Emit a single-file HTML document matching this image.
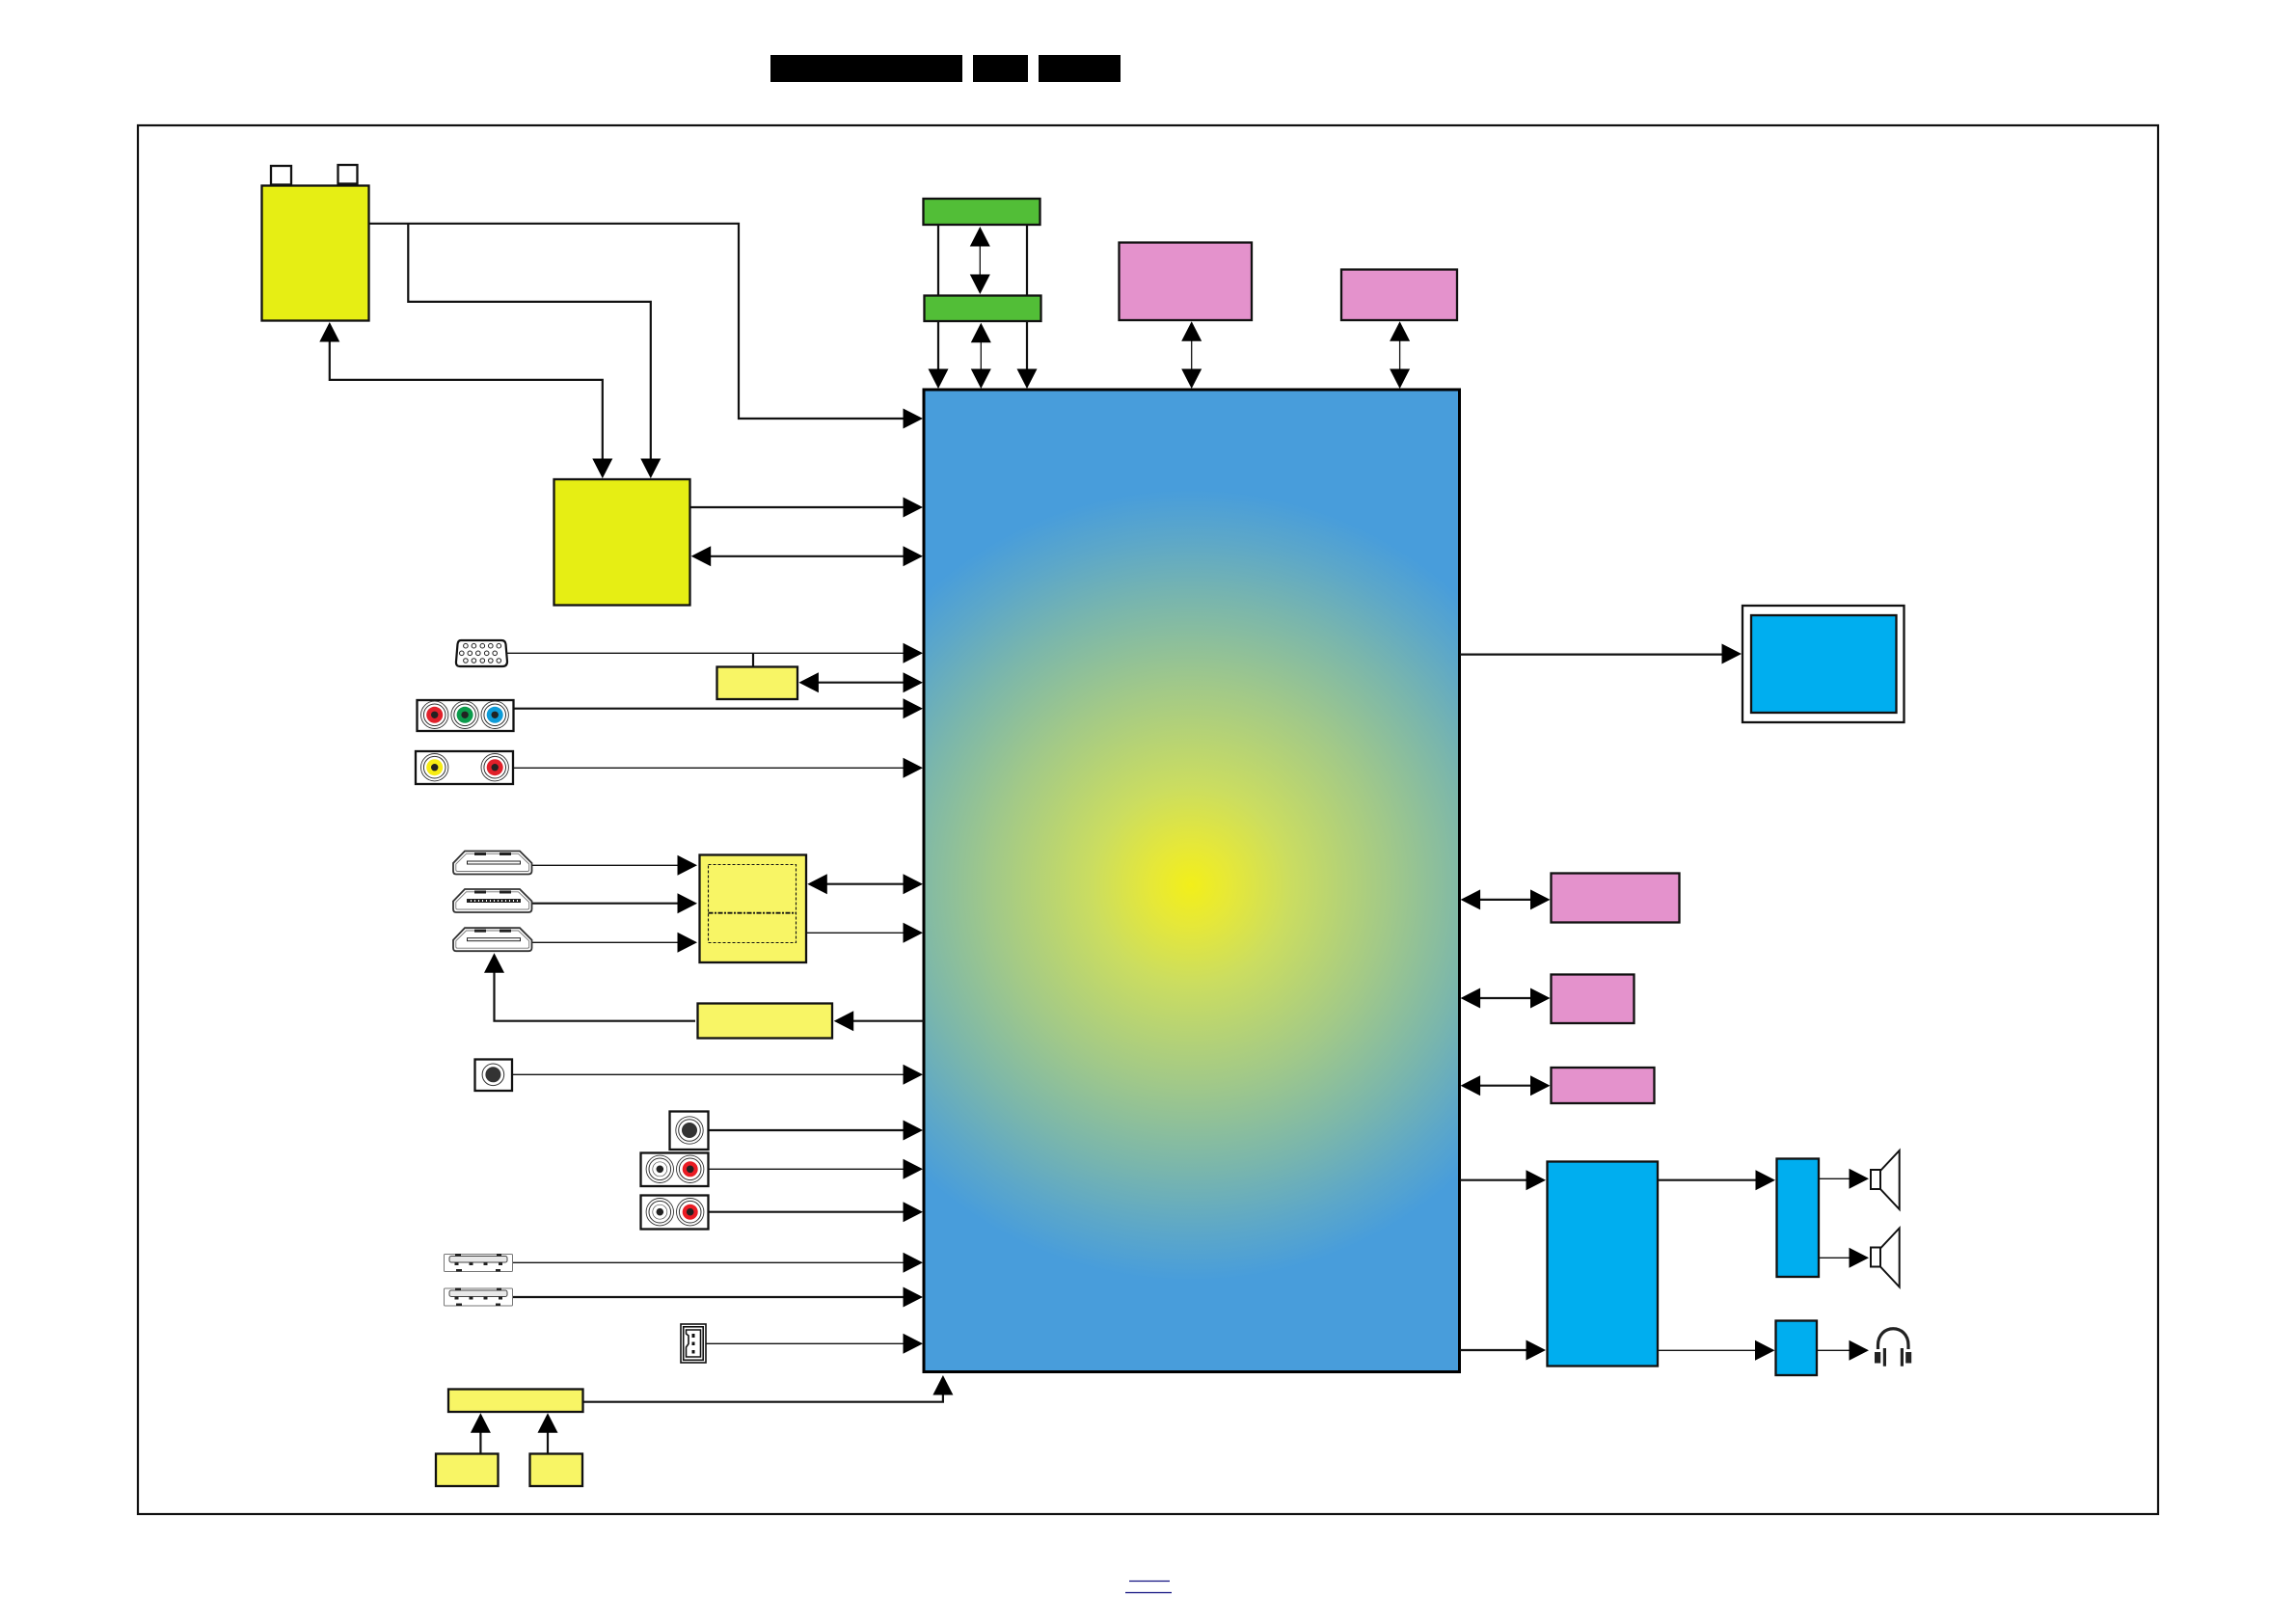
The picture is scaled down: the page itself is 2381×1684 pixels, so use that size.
<!DOCTYPE html>
<html><head><meta charset="utf-8"><title>Block diagram</title>
<style>html,body{margin:0;padding:0;background:#fff}svg{display:block}</style></head>
<body>
<svg xmlns="http://www.w3.org/2000/svg" width="2381" height="1684" viewBox="0 0 2381 1684">
<defs>
<radialGradient id="g" gradientUnits="userSpaceOnUse" cx="1235" cy="918" r="410">
<stop offset="0" stop-color="#f2ef1a"/><stop offset=".1" stop-color="#e6e838"/><stop offset=".25" stop-color="#cbdd60"/><stop offset=".5" stop-color="#a2c988"/><stop offset=".72" stop-color="#7ab6ac"/><stop offset=".88" stop-color="#5ca7c9"/><stop offset="1" stop-color="#489ddb"/>
</radialGradient>
<polygon id="R" points="0,0 -20.500,-10.500 -20.500,10.500" fill="#000"/>
<polygon id="L" points="0,0 20.500,-10.500 20.500,10.500" fill="#000"/>
<polygon id="U" points="0,0 -10.500,20.500 10.500,20.500" fill="#000"/>
<polygon id="D" points="0,0 -10.500,-20.500 10.500,-20.500" fill="#000"/>
<g id="hdmi"><path d="M470 903V895L482 882.500H539L551.500 895V903Q551.500 906.500 548 906.500H473Q470 906.500 470 903Z" fill="#fff" stroke="#333" stroke-width="1.800"/><path d="M472.800 902V896L483.500 885.300H537.500L548.700 896V902Q548.700 903.500 547 903.500H474.500Q472.800 903.500 472.800 902Z" fill="none" stroke="#777" stroke-width=".9"/><rect x="492" y="884" width="12" height="3" fill="#222"/><rect x="518" y="884" width="12" height="3" fill="#222"/><rect x="484.500" y="893" width="55" height="3" fill="#fff" stroke="#222" stroke-width="1"/></g>
<g id="usb"><rect x="460.500" y="0.500" width="71" height="18" rx="1" fill="#fff" stroke="#777" stroke-width="1"/><rect x="466" y="2.500" width="60" height="6.500" rx="2" fill="#e8e8e8" stroke="#444" stroke-width="1"/><g fill="#222"><rect x="472" y="0" width="6" height="2.500"/><rect x="515" y="0" width="5" height="2.500"/><rect x="471.500" y="9" width="4" height="3"/><rect x="486.500" y="9" width="4" height="3"/><rect x="501.500" y="9" width="4" height="3"/><rect x="517" y="9" width="4" height="3"/><rect x="473" y="16" width="6" height="2.500"/><rect x="514" y="16" width="5" height="2.500"/></g></g>
<g id="ring" fill="none" stroke="#333"><circle r="14.200" stroke-width=".9"/><circle r="11.300" stroke-width="1"/></g>
<g id="spk" fill="none" stroke="#111" stroke-width="2"><rect x="1940" y="0" width="10" height="20" fill="#fff"/><path d="M1950 1L1969.700 -20V41L1950 20"/></g>
</defs>
<rect width="2381" height="1684" fill="#fff"/>
<!-- header redaction -->
<g fill="#000"><rect x="799" y="57" width="199" height="28"/><rect x="1009" y="57" width="57" height="28"/><rect x="1077" y="57" width="85" height="28"/></g>
<!-- frame -->
<rect x="143" y="130" width="2095" height="1440" fill="none" stroke="#111" stroke-width="2.200"/>
<!-- main -->
<rect x="958" y="404" width="555.500" height="1018.500" fill="url(#g)" stroke="#000" stroke-width="3"/>

<!-- connectors thick -->
<g fill="none" stroke="#111" stroke-width="2.200">
<path d="M382 231.800H766V434H940"/>
<path d="M423.300 231.800V312.900H674.800V480"/>
<path d="M341.800 350V393.900H624.800V480"/>
<path d="M716 526H940"/>
<path d="M730 576.800H940"/>
<path d="M973 233V306M1065 233V306M973 333V385M1065 333V385"/>
<path d="M848 707.700H940"/>
<path d="M533 734.700H940"/>
<path d="M551 936.700H705"/>
<path d="M850 916.700H940"/>
<path d="M721 1058.700H512.500V1005"/>
<path d="M885 1058.700H958"/>
<path d="M735 1172H940"/>
<path d="M735 1256.700H940"/>
<path d="M531 1345H940"/>
<path d="M605 1453.700H977.900V1440"/>
<path d="M498.400 1480V1506.700M568 1480V1506.700"/>
<path d="M1514 678.600H1790"/>
<path d="M1530 932.900H1592M1530 1035H1592M1530 1125.700H1592"/>
<path d="M1514 1223.700H1585M1719 1223.700H1825M1514 1400H1585"/>
<path d="M781 677V691"/>
</g>
<!-- connectors thin -->
<g fill="none" stroke="#111" stroke-width="1.300">
<path d="M526 677.300H940"/>
<path d="M533 796.300H940"/>
<path d="M551 897.300H705M551 977.300H705"/>
<path d="M836 967.300H940"/>
<path d="M531 1114.300H940"/>
<path d="M735 1212.300H940"/>
<path d="M531 1309.300H940"/>
<path d="M732 1393.300H940"/>
<path d="M1016.300 250V290M1017.300 350V385M1235.700 350V385M1451.600 350V385"/>
<path d="M1886 1222.300H1920M1886 1304.300H1920M1719 1400.300H1825M1884 1400.300H1920"/>
</g>

<!-- boxes -->
<g stroke="#111" stroke-width="2.300">
<rect x="281" y="172" width="21" height="19.500" fill="#fff"/>
<rect x="350.500" y="171" width="20" height="19.500" fill="#fff"/>
<g fill="#e6ee14"><rect x="271.500" y="192.500" width="111" height="140"/><rect x="574.500" y="497" width="141" height="130.500"/></g>
<g fill="#52be37"><rect x="957.500" y="206" width="121" height="27"/><rect x="958.500" y="306.500" width="121" height="26.500"/></g>
<g fill="#e492cc"><rect x="1160.500" y="251.500" width="137.500" height="80.500"/><rect x="1391" y="279.500" width="120" height="52.500"/><rect x="1608.500" y="905.500" width="133" height="51"/><rect x="1608.500" y="1010.500" width="86" height="50.500"/><rect x="1608.500" y="1107" width="107" height="37"/></g>
<rect x="1807" y="628" width="167.500" height="121" fill="#fff"/>
<g fill="#00aeef"><rect x="1816" y="638" width="150.500" height="101"/><rect x="1604.500" y="1204.500" width="114.500" height="212"/><rect x="1842.500" y="1201.500" width="43.500" height="122.500"/><rect x="1841.500" y="1369.500" width="42.500" height="56.500"/></g>
<g fill="#f8f565"><rect x="743.500" y="691.500" width="83.500" height="33.500"/><rect x="725.500" y="886.500" width="110.500" height="111.500"/><rect x="723.500" y="1040.500" width="139.500" height="36"/><rect x="465" y="1440.500" width="139.500" height="23.500"/><rect x="452" y="1507.500" width="64.500" height="33.500"/><rect x="549.500" y="1507.500" width="54.500" height="33.500"/></g>
<g fill="#fff"><rect x="432.500" y="726" width="100" height="32"/><rect x="431" y="779" width="101" height="34"/><rect x="492.500" y="1098.500" width="38.500" height="32.500"/><rect x="694.500" y="1152.500" width="40" height="39.500"/><rect x="664.500" y="1195.500" width="70" height="34.500"/><rect x="664.500" y="1239.500" width="70" height="35"/></g>
</g>
<!-- dashed inner -->
<g fill="none" stroke="#111" stroke-width="1.100" stroke-dasharray="3 2"><rect x="734.500" y="896.500" width="91" height="81"/></g>
<path d="M734.500 946.700H825.500" stroke="#111" stroke-width="1.800" stroke-dasharray="5 1.500 2 1.500" fill="none"/>

<!-- VGA -->
<path d="M478 664H520Q524 664 524.500 668L526 686Q526 691 521 691H477Q472.500 691 473 686L474.500 668Q475 664 478 664Z" fill="#fff" stroke="#111" stroke-width="2.200"/>
<g fill="#fff" stroke="#222" stroke-width="1">
<circle cx="482.900" cy="669.700" r="2.300"/><circle cx="491.400" cy="669.700" r="2.300"/><circle cx="500.300" cy="669.700" r="2.300"/><circle cx="508.800" cy="669.700" r="2.300"/><circle cx="517.300" cy="669.700" r="2.300"/>
<circle cx="478.800" cy="677.300" r="2.300"/><circle cx="487.300" cy="677.300" r="2.300"/><circle cx="495.800" cy="677.300" r="2.300"/><circle cx="504.700" cy="677.300" r="2.300"/><circle cx="513.200" cy="677.300" r="2.300"/>
<circle cx="482.900" cy="685" r="2.300"/><circle cx="491.400" cy="685" r="2.300"/><circle cx="500.300" cy="685" r="2.300"/><circle cx="508.800" cy="685" r="2.300"/><circle cx="517.300" cy="685" r="2.300"/>
</g>
<!-- RCA jacks -->
<use href="#ring" x="450.700" y="741.300"/><circle cx="450.700" cy="741.300" r="8.500" fill="#e1202a"/><circle cx="450.700" cy="741.300" r="3.700" fill="#222"/>
<use href="#ring" x="482.100" y="741.300"/><circle cx="482.100" cy="741.300" r="8.500" fill="#0a9a4a"/><circle cx="482.100" cy="741.300" r="3.700" fill="#222"/>
<use href="#ring" x="513.200" y="741.300"/><circle cx="513.200" cy="741.300" r="8.500" fill="#0c9bd8"/><circle cx="513.200" cy="741.300" r="3.700" fill="#222"/>
<use href="#ring" x="450.700" y="795.700"/><circle cx="450.700" cy="795.700" r="8.500" fill="#f7ec13"/><circle cx="450.700" cy="795.700" r="3.700" fill="#222"/>
<use href="#ring" x="513.200" y="795.700"/><circle cx="513.200" cy="795.700" r="8.500" fill="#e1202a"/><circle cx="513.200" cy="795.700" r="3.700" fill="#222"/>
<!-- jack -->
<circle cx="511.400" cy="1114.300" r="11.300" fill="#fff" stroke="#333" stroke-width="1"/><circle cx="511.400" cy="1114.300" r="8" fill="#333"/>
<use href="#ring" x="715" y="1172"/><circle cx="715" cy="1172" r="8" fill="#333"/>
<use href="#ring" x="684.300" y="1212.300"/><circle cx="684.300" cy="1212.300" r="7.500" fill="none" stroke="#555" stroke-width=".7"/><circle cx="684.300" cy="1212.300" r="3.800" fill="#222"/>
<use href="#ring" x="715.700" y="1212.300"/><circle cx="715.700" cy="1212.300" r="8" fill="#ea1c24"/><circle cx="715.700" cy="1212.300" r="3.800" fill="#222"/>
<use href="#ring" x="684.300" y="1256.700"/><circle cx="684.300" cy="1256.700" r="7.500" fill="none" stroke="#555" stroke-width=".7"/><circle cx="684.300" cy="1256.700" r="3.800" fill="#222"/>
<use href="#ring" x="715.700" y="1256.700"/><circle cx="715.700" cy="1256.700" r="8" fill="#ea1c24"/><circle cx="715.700" cy="1256.700" r="3.800" fill="#222"/>
<!-- HDMI -->
<use href="#hdmi"/>
<use href="#hdmi" y="39.500"/>
<use href="#hdmi" y="79.700"/>
<path d="M485 933.500H539" stroke="#222" stroke-width="3" stroke-dasharray="3 1"/>
<!-- USB -->
<use href="#usb" y="1300"/>
<use href="#usb" y="1335.500"/>
<!-- small connector -->
<rect x="706" y="1373" width="26" height="40" fill="#fff" stroke="#111" stroke-width="1.600"/>
<rect x="708.700" y="1375.800" width="20.500" height="34.500" fill="#fff" stroke="#111" stroke-width="1.600"/>
<path d="M711.500 1379H726.500V1407H711.500V1397L714 1393.500V1385L711.500 1383Z" fill="#fff" stroke="#111" stroke-width="1.600"/>
<g fill="#111"><rect x="717.500" y="1383" width="3" height="4"/><rect x="717.500" y="1391.500" width="3" height="3.500"/><rect x="717.500" y="1400" width="3" height="3.500"/></g>
<!-- speakers -->
<use href="#spk" y="1213"/>
<use href="#spk" y="1293.500"/>
<!-- headphones -->
<path d="M1947.500 1399V1395C1947.500 1372 1979 1372 1979 1395V1399" fill="none" stroke="#222" stroke-width="3.200"/>
<g fill="#222"><rect x="1944" y="1402" width="6.200" height="11.500"/><rect x="1952.800" y="1398" width="3.200" height="18.700"/><rect x="1970.800" y="1398" width="3.200" height="18.700"/><rect x="1976.200" y="1402" width="6" height="11.500"/></g>

<!-- arrowheads -->
<use href="#U" x="341.800" y="334"/>
<use href="#D" x="624.800" y="496"/><use href="#D" x="674.800" y="496"/>
<use href="#R" x="957" y="434"/><use href="#R" x="957" y="526"/><use href="#R" x="957" y="576.800"/>
<use href="#L" x="716.700" y="576.800"/>
<use href="#U" x="1016.300" y="235"/><use href="#D" x="1016.300" y="305"/>
<use href="#U" x="1017.300" y="334.700"/><use href="#U" x="1235.700" y="333.300"/><use href="#U" x="1451.600" y="333.300"/>
<use href="#D" x="973" y="403"/><use href="#D" x="1017.300" y="403"/><use href="#D" x="1065" y="403"/><use href="#D" x="1235.700" y="403"/><use href="#D" x="1451.600" y="403"/>
<use href="#R" x="957" y="677.300"/><use href="#R" x="957" y="707.700"/><use href="#R" x="957" y="734.700"/><use href="#R" x="957" y="796.300"/><use href="#R" x="957" y="916.700"/><use href="#R" x="957" y="967.300"/><use href="#R" x="957" y="1114.300"/><use href="#R" x="957" y="1172"/><use href="#R" x="957" y="1212.300"/><use href="#R" x="957" y="1256.700"/><use href="#R" x="957" y="1309.300"/><use href="#R" x="957" y="1345"/><use href="#R" x="957" y="1393.300"/>
<use href="#L" x="828.400" y="707.700"/><use href="#L" x="837.300" y="916.700"/><use href="#L" x="864.700" y="1058.700"/>
<use href="#R" x="723" y="897.300"/><use href="#R" x="723" y="936.700"/><use href="#R" x="723" y="977.300"/>
<use href="#U" x="512.500" y="988.300"/>
<use href="#U" x="977.900" y="1426"/><use href="#U" x="498.400" y="1465.300"/><use href="#U" x="568" y="1465.300"/>
<use href="#R" x="1806" y="678"/>
<use href="#L" x="1514.600" y="932.900"/><use href="#L" x="1514.600" y="1035"/><use href="#L" x="1514.600" y="1125.700"/>
<use href="#R" x="1607.500" y="932.900"/><use href="#R" x="1607.500" y="1035"/><use href="#R" x="1607.500" y="1125.700"/>
<use href="#R" x="1603" y="1223.700"/><use href="#R" x="1603" y="1400"/>
<use href="#R" x="1841" y="1223.700"/><use href="#R" x="1840.500" y="1400.300"/>
<use href="#R" x="1938" y="1222.300"/><use href="#R" x="1938" y="1304.300"/><use href="#R" x="1938" y="1400.300"/>
<!-- bottom lines -->
<path d="M1171 1639.500H1213M1167 1651.500H1215" stroke="#101080" stroke-width="1.200"/>
</svg>
</body></html>
